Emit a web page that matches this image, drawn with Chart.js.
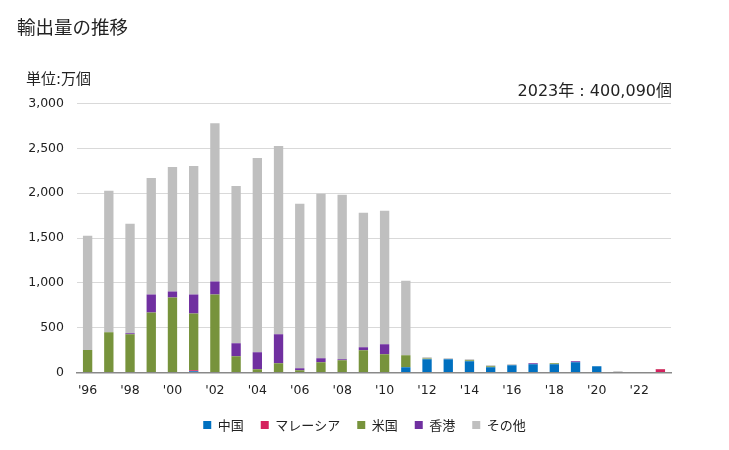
<!DOCTYPE html>
<html><head><meta charset="utf-8">
<script src="https://cdn.jsdelivr.net/npm/chart.js@4/dist/chart.umd.min.js"></script>
<style>
html,body{margin:0;padding:0;background:#fff;}
#wrap{position:relative;width:729px;height:450px;font-family:"DejaVu Sans","Noto Sans CJK JP",sans-serif;color:#222;}
#title{position:absolute;left:17px;top:13px;font-size:18.5px;font-family:"Noto Sans CJK JP",sans-serif;line-height:26px;}
#unit{position:absolute;left:26px;top:68px;font-size:15px;line-height:22px;}
#note{position:absolute;right:57px;top:80px;font-size:16px;line-height:22px;}
canvas{position:absolute;left:0;top:0;}
</style></head>
<body><div id="wrap">
<canvas id="c" width="729" height="450"></canvas>
<div id="title">輸出量の推移</div>
<div id="unit">単位:万個</div>
<div id="note">2023年 : 400,090個</div>
</div>
<script>
const years = ["'96","'97","'98","'99","'00","'01","'02","'03","'04","'05","'06","'07","'08","'09","'10","'11","'12","'13","'14","'15","'16","'17","'18","'19","'20","'21","'22","'23"];
const china    = [0,0,0,0,0,15,0,0,0,0,0,0,0,0,0,59,148,148,126,59,81,93,93,115,70,0,0,0];
const malaysia = [0,0,0,0,0,10,0,0,0,0,0,0,0,0,0,0,0,0,0,0,0,0,0,0,0,0,0,35];
const usa      = [252,448,426,670,837,634,870,181,37,104,26,115,137,248,204,132,8,0,11,11,0,0,11,0,0,0,0,5];
const hk       = [0,0,11,200,67,211,145,145,189,322,22,44,11,33,111,0,0,0,0,0,0,11,0,11,0,0,0,0];
const other    = [1274,1578,1222,1300,1389,1434,1766,1755,2167,2100,1833,1834,1833,1500,1489,833,14,11,11,11,11,0,0,0,0,15,0,0];
const seriesNames = ["中国","マレーシア","米国","香港","その他"];
const colors = ["#0070C0","#D5215E","#77933C","#7030A0","#BFBFBF"];
const values = [china, malaysia, usa, hk, other];

const tickFont = {family:'"DejaVu Sans","Noto Sans CJK JP",sans-serif', size:12.5};
const legendFont = {family:'"Noto Sans CJK JP",sans-serif', size:13};
new Chart(document.getElementById('c'), {
  type:'bar',
  data:{labels:years, datasets: seriesNames.map((n,i)=>({label:n,data:values[i],backgroundColor:colors[i],borderWidth:0,barPercentage:0.44,categoryPercentage:1}))},
  options:{
    responsive:false, animation:false,
    layout:{padding:{top:103.5,right:0,bottom:8.5,left:0}},
    plugins:{
      tooltip:{enabled:false},
      legend:{position:'bottom',labels:{boxWidth:8,boxHeight:8,font:legendFont,color:'#222',padding:17}},
    },
    scales:{
      x:{stacked:true,grid:{display:false},border:{color:'#898989',width:1.5},
         ticks:{autoSkip:false,maxRotation:0,font:tickFont,color:'#222',padding:3,callback:(v,i)=> i%2===0?years[i]:''}},
      y:{stacked:true,min:0,max:3000,afterFit:(s)=>{s.width=77;},
         grid:{color:'#D9D9D9',drawTicks:false},border:{display:false},
         ticks:{stepSize:500,font:tickFont,color:'#222',padding:13,callback:v=>v.toLocaleString('en-US')}},
      y2:{type:'linear',position:'right',display:true,afterFit:(s)=>{s.width=58;},
         grid:{display:false},border:{display:false},ticks:{display:false}}
    }
  }
});
</script></body></html>
